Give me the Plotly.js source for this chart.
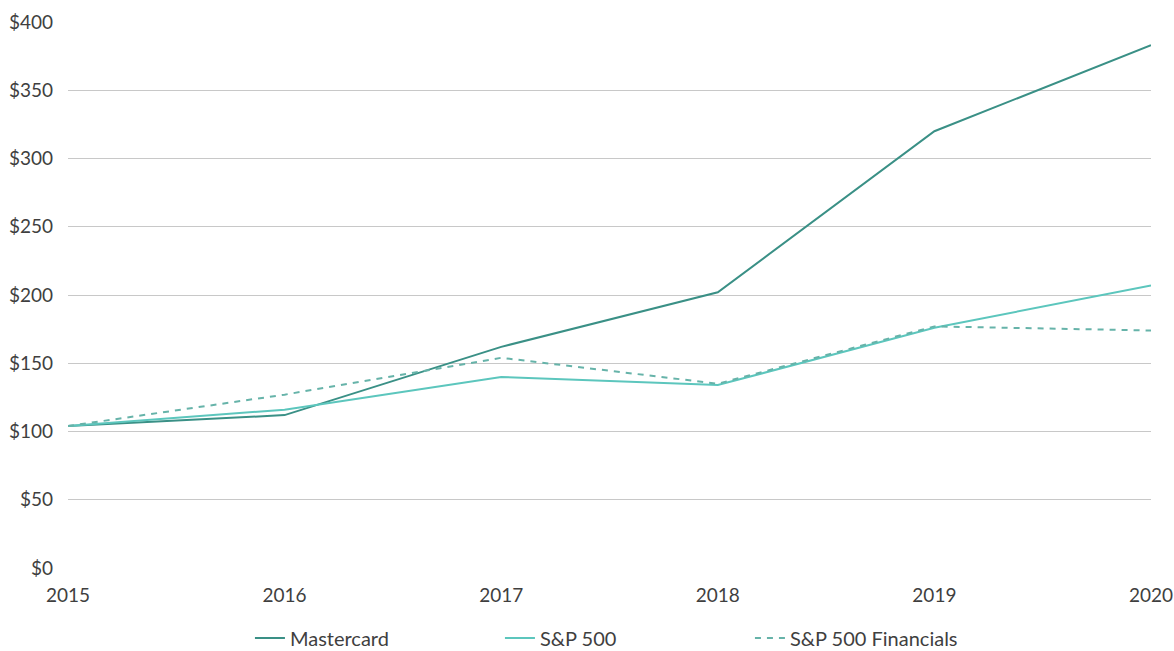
<!DOCTYPE html>
<html>
<head>
<meta charset="utf-8">
<script src="https://cdn.plot.ly/plotly-3.0.1.min.js"></script>
<style>html,body{margin:0;padding:0;background:#fff;}#chart{width:1174px;height:651px;}</style>
</head>
<body>
<div id="chart"></div>
<script>
const years = [2015, 2016, 2017, 2018, 2019, 2020];
const mastercard = [104, 112, 162, 202, 320, 383];
const sp500 = [104, 116, 140, 134, 176, 207];
const spFinancials = [104, 127, 154, 135, 177, 174];
const seriesNames = ['Mastercard', 'S&P 500', 'S&P 500 Financials'];

const traces = [
  {x: years, y: mastercard, name: seriesNames[0], mode: 'lines', line: {color: '#3a9086', width: 2}},
  {x: years, y: sp500, name: seriesNames[1], mode: 'lines', line: {color: '#5cc6bd', width: 2}},
  {x: years, y: spFinancials, name: seriesNames[2], mode: 'lines', line: {color: '#66b3a9', width: 2, dash: '6px,6px'}}
];

const layout = {
  width: 1174, height: 651,
  margin: {l: 68, r: 23, t: 22, b: 83, autoexpand: false},
  paper_bgcolor: '#fff', plot_bgcolor: '#fff',
  font: {family: 'Lato, "Open Sans", sans-serif', size: 19, color: '#3f3f3f'},
  showlegend: true,
  legend: {orientation: 'h', x: 0.168, xanchor: 'left', xref: 'paper', y: 0.02, yanchor: 'middle', yref: 'container', entrywidth: 205, entrywidthmode: 'pixels', font: {size: 20, color: '#3f3f3f'}},
  xaxis: {range: [2015, 2020], tickvals: years, ticktext: years.map(String), showgrid: false, zeroline: false, showline: false, ticks: '', ticklen: 0, ticklabelstandoff: 14, tickfont: {size: 19}},
  yaxis: {range: [0, 400], dtick: 50, tick0: 0, tickprefix: '$', showgrid: true, gridcolor: '#c8c8c8', gridwidth: 1, zeroline: false, showline: false, ticks: '', ticklabelstandoff: 14, tickfont: {size: 19}}
};

Plotly.newPlot('chart', traces, layout, {displayModeBar: false, staticPlot: true});
</script>
</body>
</html>
